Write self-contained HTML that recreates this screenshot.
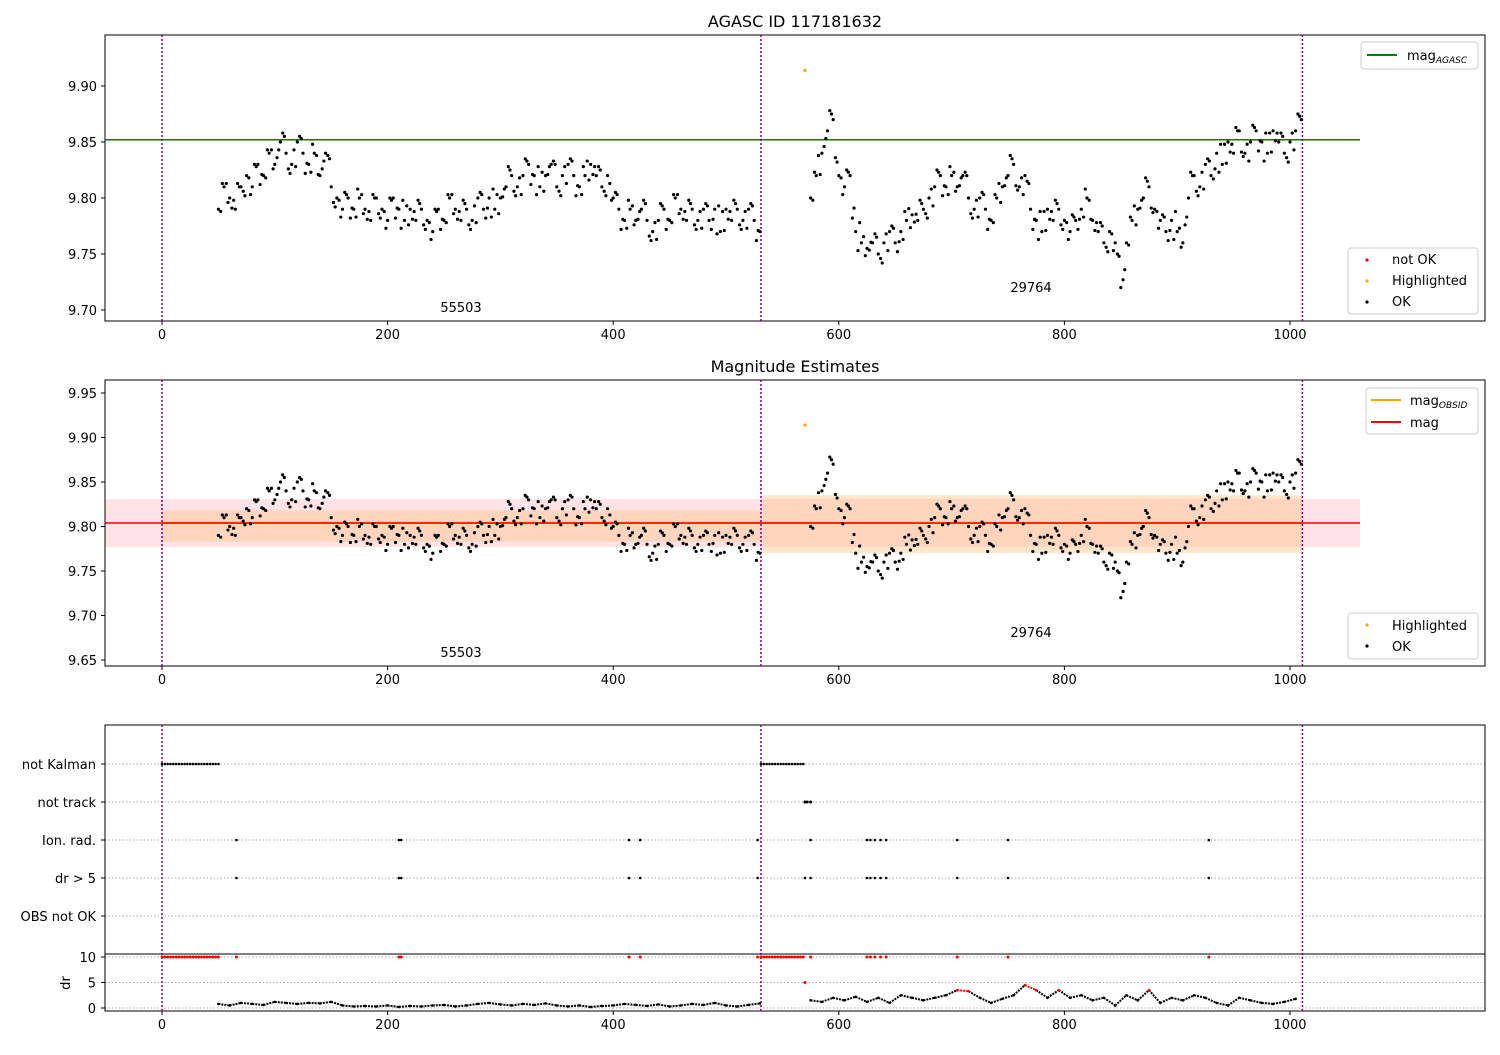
<!DOCTYPE html>
<html><head><meta charset="utf-8"><style>
body{margin:0;background:#fff;font-family:"Liberation Sans","DejaVu Sans",sans-serif}
svg text{font-family:"DejaVu Sans","Liberation Sans",sans-serif;font-size:13px}
</style></head><body>
<svg id="c" width="1500" height="1050" xmlns="http://www.w3.org/2000/svg"></svg>
<script>
const seg1Start=50, seg2Start=575, magStep=5;
const seg1Mag=[9.79,9.81,9.80,9.79,9.81,9.82,9.81,9.83,9.82,9.84,9.83,9.85,9.84,9.83,9.85,9.84,9.83,9.84,9.82,9.84,9.81,9.80,9.79,9.80,9.79,9.80,9.79,9.78,9.80,9.79,9.78,9.80,9.79,9.78,9.79,9.78,9.79,9.78,9.77,9.79,9.78,9.80,9.79,9.78,9.79,9.78,9.80,9.79,9.80,9.79,9.80,9.81,9.82,9.81,9.82,9.83,9.82,9.81,9.82,9.83,9.81,9.82,9.83,9.82,9.81,9.82,9.83,9.82,9.81,9.82,9.80,9.79,9.78,9.79,9.78,9.79,9.78,9.77,9.78,9.79,9.78,9.80,9.79,9.78,9.79,9.78,9.79,9.78,9.79,9.77,9.79,9.78,9.79,9.78,9.79,9.78,9.77];
const seg2Mag=[9.80,9.82,9.84,9.86,9.87,9.82,9.81,9.82,9.77,9.76,9.755,9.76,9.75,9.76,9.77,9.76,9.77,9.78,9.785,9.78,9.79,9.80,9.81,9.82,9.81,9.82,9.81,9.82,9.80,9.79,9.80,9.79,9.78,9.80,9.81,9.82,9.83,9.81,9.82,9.79,9.78,9.77,9.79,9.78,9.79,9.78,9.77,9.78,9.79,9.80,9.78,9.77,9.76,9.77,9.76,9.72,9.76,9.78,9.79,9.80,9.81,9.79,9.78,9.77,9.78,9.77,9.76,9.80,9.82,9.81,9.83,9.82,9.84,9.83,9.85,9.84,9.86,9.84,9.85,9.86,9.85,9.84,9.86,9.85,9.84,9.85,9.86,9.87];
const highlightT=[570], highlightMag=[9.914];
const magAgasc=9.852, magMean=9.804, magLo=9.777, magHi=9.831;
const obsEdges=[0,531,1011];
const obsLo=[9.783,9.770], obsHi=[9.818,9.835];
const obsLabels=["55503","29764"];
const yTicks1=[9.70,9.75,9.80,9.85,9.90], yTicks2=[9.65,9.70,9.75,9.80,9.85,9.90,9.95];
const xTicks=[0,200,400,600,800,1000];
const drStep=10, dr1Start=50, dr2Start=575;
const dr1=[0.8,0.5,1.0,0.8,0.6,1.2,1.0,0.8,1.0,0.9,1.2,0.5,0.3,0.4,0.3,0.5,0.2,0.4,0.3,0.5,0.6,0.3,0.5,0.8,1.0,0.7,0.5,0.8,0.6,0.9,0.5,0.3,0.5,0.2,0.4,0.5,0.8,0.6,0.4,0.7,0.3,0.5,0.8,0.6,1.0,0.5,0.3,0.6,0.9];
const dr2=[1.5,1.2,2.0,1.5,2.2,1.2,2.0,1.0,2.5,2.0,1.5,2.0,2.5,3.5,3.3,2.0,1.0,1.8,2.5,4.5,3.5,2.0,3.5,2.0,2.5,1.5,2.0,0.5,2.5,1.5,3.5,1.0,2.0,1.5,2.5,2.0,1.0,0.5,2.0,1.5,1.0,0.8,1.2,1.8];
const kalmanRanges=[[0,50],[531,570]];
const trackRange=[570,575];
const ionT=[66,210,212,414,424,528,575,625,628,632,637,642,705,750,928];
const drBigT=[66,210,212,414,424,528,570,575,625,628,632,637,642,705,750,928];
const flagRows=["not Kalman","not track","Ion. rad.","dr > 5","OBS not OK"];

const S=document.getElementById('c'),NS='http://www.w3.org/2000/svg';
function el(t,a,p){const e=document.createElementNS(NS,t);for(const k in a)e.setAttribute(k,a[k]);(p||S).appendChild(e);return e;}
function tx(x,y,s,anchor,name,size){const e=el('text',{x:x,y:y,'text-anchor':anchor||'middle'});if(size)e.style.fontSize=size+'px';e.textContent=s;

return e;}
const X=v=>162+v*1.128;
const Y1=v=>86+(9.90-v)*1120;
const Y2=v=>393+(9.95-v)*890;
const L=105,R=1485;

function frame(top,bot,name){const r=el('rect',{x:L,y:top,width:R-L,height:bot-top,fill:'none',stroke:'#000','stroke-width':1});


xTicks.forEach(t=>{el('line',{x1:X(t),x2:X(t),y1:bot,y2:bot+4,stroke:'#000'});tx(X(t),bot+18,String(t),'middle','x-tick-label');});}
function vlines(top,bot){obsEdges.forEach(t=>{const l=el('line',{x1:X(t),x2:X(t),y1:top,y2:bot,stroke:'#800080','stroke-width':1.5,'stroke-dasharray':'2,2'});

});}
function dots(ts,vs,Y,color,name,r){ts.forEach((t,i)=>{const c=el('circle',{cx:X(t),cy:Y(vs[i]),r:r||1.6,fill:color});

});}
const t1=seg1Mag.map((_,i)=>seg1Start+i*magStep), t2=seg2Mag.map((_,i)=>seg2Start+i*magStep);
const jit=[-0.012,0.008,-0.004,0.013,-0.009,0.003,0.010,-0.013];
function fill(ts,vs,Y,off,k){dots(ts.slice(0,-1).map(t=>t+off),vs.slice(0,-1).map((v,i)=>(v+vs[i+1])/2+jit[(i+k)%8]),Y,'#000','ok-point');}
function magPoints(Y){
 dots(t1,seg1Mag,Y,'#000','ok-point');dots(t2,seg2Mag,Y,'#000','ok-point');
 fill(t1,seg1Mag,Y,2,0);fill(t2,seg2Mag,Y,2,0);
 fill(t1,seg1Mag,Y,3.5,3);fill(t2,seg2Mag,Y,3.5,3);
 dots(highlightT,highlightMag,Y,'orange','highlighted-point');}
function legendBox(x,y,w,h,name){const r=el('rect',{x:x,y:y,width:w,height:h,rx:3,fill:'#fff',stroke:'#ccc'});

}

// Panel 1
tx(795,27,'AGASC ID 117181632','middle','panel1-title',16);
frame(35,321,'panel1-axes');
yTicks1.forEach(v=>{el('line',{x1:L-4,x2:L,y1:Y1(v),y2:Y1(v),stroke:'#000'});tx(L-8,Y1(v)+5,v.toFixed(2),'end','y-tick-label');});
const g=el('line',{x1:L,x2:1360,y1:Y1(magAgasc),y2:Y1(magAgasc),stroke:'green','stroke-width':1.5});


vlines(35,321);magPoints(Y1);
tx(461,312,obsLabels[0],'middle','obsid-label');tx(1031,292,obsLabels[1],'middle','obsid-label');
legendBox(1361,42,117,27,'legend-agasc');
el('line',{x1:1367,x2:1397,y1:55,y2:55,stroke:'green','stroke-width':2});
const t=tx(1407,60,'mag','start','legend-entry');const ts=el('tspan',{dy:3},t);ts.style.fontSize='9px';ts.style.fontStyle='italic';ts.textContent='AGASC';
legendBox(1348,248,130,66,'legend-status');
[['red','not OK'],['orange','Highlighted'],['#000','OK']].forEach((d,i)=>{el('circle',{cx:1367,cy:260+i*21,r:1.6,fill:d[0]});tx(1392,264+i*21,d[1],'start','legend-entry');});

// Panel 2
tx(795,372,'Magnitude Estimates','middle','panel2-title',16);
const pb=el('rect',{x:L,y:Y2(magHi),width:1360-L,height:Y2(magLo)-Y2(magHi),fill:'#ffc0c8',opacity:0.45});


[0,1].forEach(i=>{const b=el('rect',{x:X(obsEdges[i]),y:Y2(obsHi[i]),width:X(obsEdges[i+1])-X(obsEdges[i]),height:Y2(obsLo[i])-Y2(obsHi[i]),fill:'#ffc080',opacity:0.4});


el('line',{x1:X(obsEdges[i]),x2:X(obsEdges[i+1]),y1:Y2(magMean),y2:Y2(magMean),stroke:'orange','stroke-width':2});});
const ml=el('line',{x1:L,x2:1360,y1:Y2(magMean),y2:Y2(magMean),stroke:'red','stroke-width':1.5});


frame(380,666,'panel2-axes');
yTicks2.forEach(v=>{el('line',{x1:L-4,x2:L,y1:Y2(v),y2:Y2(v),stroke:'#000'});tx(L-8,Y2(v)+5,v.toFixed(2),'end','y-tick-label');});
vlines(380,666);magPoints(Y2);
tx(461,657,obsLabels[0],'middle','obsid-label');tx(1031,637,obsLabels[1],'middle','obsid-label');
legendBox(1366,388,112,46,'legend-mag');
el('line',{x1:1371,x2:1401,y1:400,y2:400,stroke:'orange','stroke-width':2});
const t2l=tx(1410,405,'mag','start','legend-entry');const ts2=el('tspan',{dy:3},t2l);ts2.style.fontSize='9px';ts2.style.fontStyle='italic';ts2.textContent='OBSID';
el('line',{x1:1371,x2:1401,y1:422,y2:422,stroke:'red','stroke-width':2});tx(1410,427,'mag','start','legend-entry');
legendBox(1348,613,130,46,'legend-status2');
el('circle',{cx:1367,cy:625,r:1.6,fill:'orange'});tx(1392,630,'Highlighted','start','legend-entry');
el('circle',{cx:1367,cy:646,r:1.6,fill:'#000'});tx(1392,651,'OK','start','legend-entry');

// Panel 3
const FY=i=>764+i*38;
const DY=v=>1008-v*5.1;
flagRows.forEach((n,i)=>{el('line',{x1:L,x2:R,y1:FY(i),y2:FY(i),stroke:'#aaa','stroke-dasharray':'1.5,2'});tx(96,FY(i)+5,n,'end','flag-label');el('line',{x1:L-4,x2:L,y1:FY(i),y2:FY(i),stroke:'#000'});});
[0,5,10].forEach(v=>{el('line',{x1:L,x2:R,y1:DY(v),y2:DY(v),stroke:'#aaa','stroke-dasharray':'1.5,2'});el('line',{x1:L-4,x2:L,y1:DY(v),y2:DY(v),stroke:'#000'});tx(96,DY(v)+5,String(v),'end','y-tick-label');});
const dl=tx(70,983,'dr','middle','dr-axis-title');dl.setAttribute('transform','rotate(-90 70 983)');
frame(725,1011,'panel3-axes');
el('line',{x1:L,x2:R,y1:954,y2:954,stroke:'#000'});
vlines(725,1011);
kalmanRanges.forEach(r=>{const ts=[];for(let t=r[0];t<=r[1];t+=2.5)ts.push(t);dots(ts,ts.map(()=>0),v=>FY(0),'#000','not-kalman-point',1.3);dots(ts,ts.map(()=>10),DY,'red','dr-flag-point',1.5);});
dots([trackRange[0],trackRange[0]+2,trackRange[1]],[0,0,0],v=>FY(1),'#000','not-track-point',1.5);
dots(ionT,ionT.map(()=>0),v=>FY(2),'#000','ion-rad-point',1.3);
dots(drBigT,drBigT.map(()=>0),v=>FY(3),'#000','dr-gt-5-point',1.3);
dots(ionT,ionT.map(()=>10),DY,'red','dr-flag-point',1.5);
dots([570],[5],DY,'red','dr-flag-point',1.5);
[[dr1Start,dr1],[dr2Start,dr2]].forEach(s=>{const ts=s[1].map((_,i)=>s[0]+i*drStep);
 for(let i=0;i<ts.length-1;i++){const c=(s[1][i]>3&&s[1][i+1]>3)?'red':'#000';const l=el('line',{x1:X(ts[i]),x2:X(ts[i+1]),y1:DY(s[1][i]),y2:DY(s[1][i+1]),stroke:c,'stroke-width':2,'stroke-dasharray':'2,1'});
 
 }
 s[1].forEach((v,i)=>{const c=el('circle',{cx:X(ts[i]),cy:DY(v),r:1.3,fill:v>3?'red':'#000'});
 
 });});
</script>
</body></html>
